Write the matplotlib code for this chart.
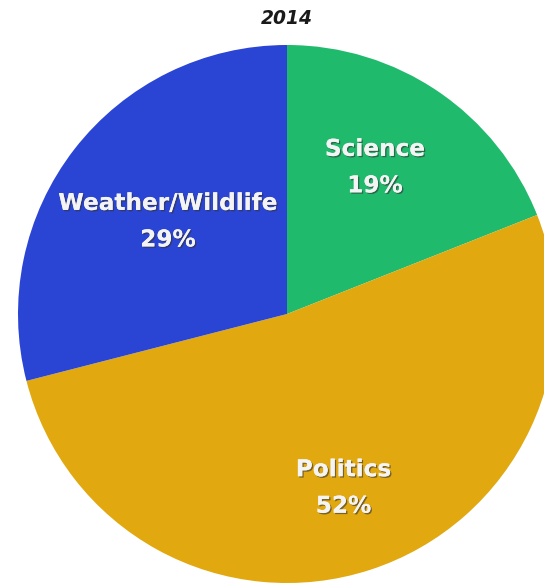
import numpy as np
import matplotlib
matplotlib.use("Agg")
import matplotlib.pyplot as plt
import matplotlib.patheffects as pe

# data
categories = ["Science", "Politics", "Weather/Wildlife"]
shares = [19, 52, 29]
colors = ["#1fba6c", "#e1a80f", "#2a44d4"]
label_radius = [0.635, 0.68, 0.56]   # how far from centre each label sits
label_turn = [3.2, 0.0, 0.0]         # small angle nudge (deg) for the label
title = "2014"

fig = plt.figure(figsize=(5.44, 5.83), dpi=100)
# pie centre at (287, 314) px, radius 269 px
ax = fig.add_axes([18 / 544, 0.0, 538 / 544, 538 / 583])
wedges, _ = ax.pie(shares, colors=colors, startangle=90, counterclock=False,
                   radius=1.0, wedgeprops=dict(linewidth=0))
ax.set_xlim(-1, 1)
ax.set_ylim(-1, 1)
ax.set_aspect("equal")
ax.axis("off")

shadow = [pe.withSimplePatchShadow(offset=(1, -1), shadow_rgbFace="#333333", alpha=0.6),
          pe.Normal()]
for w, name, val, r, t in zip(wedges, categories, shares, label_radius, label_turn):
    mid = np.deg2rad((w.theta1 + w.theta2) / 2 + t)
    ax.text(r * np.cos(mid), r * np.sin(mid), f"{name}\n{val}%",
            ha="center", va="center", color="#f4f4f4", fontsize=16.7,
            fontweight="bold", linespacing=1.75, path_effects=shadow)

fig.text(287 / 544, 1 - 19 / 583, title, ha="center", va="center",
         fontsize=13.4, fontweight="bold", style="italic", color="#1a1a1a")

fig.savefig("out.png", dpi=100)
